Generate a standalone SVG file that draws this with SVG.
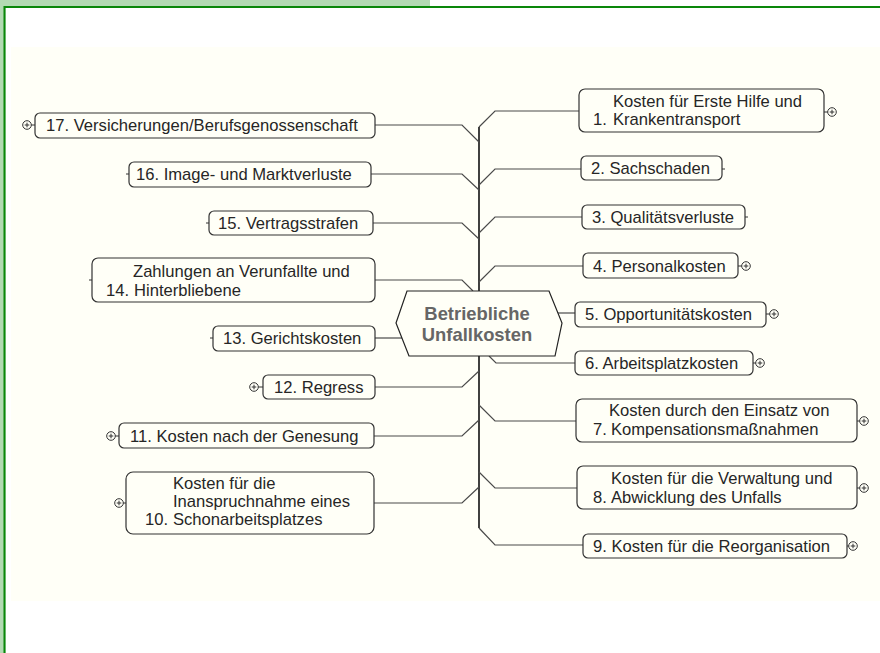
<svg xmlns="http://www.w3.org/2000/svg" width="880" height="653" viewBox="0 0 880 653">
<style>
.bx{fill:#fffff7;stroke:#333;stroke-width:1.2}
.t{font-family:"Liberation Sans",Arial,sans-serif;font-size:16.6px;fill:#262626}
.c{fill:none;stroke:#4a4a4a;stroke-width:1.2}
.sp{fill:none;stroke:#111;stroke-width:1.6}
.ic{fill:#fffff7;stroke:#333;stroke-width:1}
.tk{stroke:#333;stroke-width:1}
.ct{font-family:"Liberation Sans",Arial,sans-serif;font-size:18.4px;font-weight:bold;fill:#666}
</style>
<defs>
<g id="plus"><circle r="4.3" class="ic"/><path d="M-2.3,0H2.3M0,-2.3V2.3" stroke="#333" stroke-width="1"/></g>
</defs>
<rect x="0" y="0" width="880" height="653" fill="#ffffff"/>
<rect x="0" y="0" width="430" height="6" fill="#b3dab3"/>
<rect x="0" y="0" width="3.5" height="653" fill="#b3dab3"/>
<rect x="11" y="47" width="869" height="554" fill="#fffff7"/>
<path d="M4.5,653V7H880" fill="none" stroke="#0a870a" stroke-width="2.2"/>

<g id="connectors">
<path class="sp" d="M479,127V528"/>
<path class="c" d="M479,127L495,111H579"/>
<path class="c" d="M479,185L495,169H581"/>
<path class="c" d="M479,233L495,217H582"/>
<path class="c" d="M479,282L495,266H583"/>
<path class="c" d="M558,313H575"/>
<path class="c" d="M489,356L496,363H575"/>
<path class="c" d="M479,405L495,421H576"/>
<path class="c" d="M479,472L495,488H577"/>
<path class="c" d="M479,528L495,545H583"/>
<path class="c" d="M375,125H462L479,142"/>
<path class="c" d="M371,174H462L479,190"/>
<path class="c" d="M373,223H462L479,239"/>
<path class="c" d="M375,280H462L473,291"/>
<path class="c" d="M375,338H402"/>
<path class="c" d="M375,387H462L479,371"/>
<path class="c" d="M374,436H462L479,420"/>
<path class="c" d="M374,503H462L479,487"/>
</g>

<g id="center">
<polygon points="407,291 549,291 562,323 555,356 409,356 396,323" fill="#fffff7" stroke="#222" stroke-width="1.2"/>
<text class="ct" x="477" y="320" text-anchor="middle">Betriebliche</text>
<text class="ct" x="477" y="341" text-anchor="middle">Unfallkosten</text>
</g>

<g id="n1">
<rect class="bx" x="579" y="89" width="245" height="43" rx="6"/>
<line class="tk" x1="824" y1="112" x2="828" y2="112"/>
<use href="#plus" x="832" y="112"/>
<text class="t" x="613" y="107">Kosten für Erste Hilfe und</text>
<text class="t" x="593" y="125">1.</text>
<text class="t" x="613" y="125">Krankentransport</text>
</g>
<g id="n2">
<rect class="bx" x="581" y="156" width="141" height="24" rx="5"/>
<line class="tk" x1="722" y1="169" x2="725" y2="169"/>
<text class="t" x="591" y="174">2. Sachschaden</text>
</g>
<g id="n3">
<rect class="bx" x="582" y="205" width="163" height="24" rx="5"/>
<line class="tk" x1="745" y1="217" x2="748" y2="217"/>
<text class="t" x="592" y="223">3. Qualitätsverluste</text>
</g>
<g id="n4">
<rect class="bx" x="583" y="253" width="155" height="25" rx="5"/>
<line class="tk" x1="738" y1="266" x2="742" y2="266"/>
<use href="#plus" x="746" y="266"/>
<text class="t" x="593" y="272">4. Personalkosten</text>
</g>
<g id="n5">
<rect class="bx" x="575" y="302" width="191" height="25" rx="5"/>
<line class="tk" x1="766" y1="314" x2="770" y2="314"/>
<use href="#plus" x="774" y="314"/>
<text class="t" x="585" y="320">5. Opportunitätskosten</text>
</g>
<g id="n6">
<rect class="bx" x="575" y="351" width="178" height="24" rx="5"/>
<line class="tk" x1="753" y1="363" x2="756" y2="363"/>
<use href="#plus" x="760" y="363"/>
<text class="t" x="585" y="369">6. Arbeitsplatzkosten</text>
</g>
<g id="n7">
<rect class="bx" x="576" y="399" width="281" height="43" rx="6"/>
<line class="tk" x1="857" y1="421" x2="860" y2="421"/>
<use href="#plus" x="864" y="421"/>
<text class="t" x="609" y="416">Kosten durch den Einsatz von</text>
<text class="t" x="593" y="435">7.</text>
<text class="t" x="611" y="435">Kompensationsmaßnahmen</text>
</g>
<g id="n8">
<rect class="bx" x="577" y="466" width="280" height="43" rx="6"/>
<line class="tk" x1="857" y1="488" x2="860" y2="488"/>
<use href="#plus" x="864" y="488"/>
<text class="t" x="611" y="484">Kosten für die Verwaltung und</text>
<text class="t" x="593" y="503">8.</text>
<text class="t" x="611" y="503">Abwicklung des Unfalls</text>
</g>
<g id="n9">
<rect class="bx" x="583" y="534" width="264" height="24" rx="5"/>
<line class="tk" x1="847" y1="546" x2="849" y2="546"/>
<use href="#plus" x="853" y="546"/>
<text class="t" x="593" y="552">9. Kosten für die Reorganisation</text>
</g>

<g id="n17">
<rect class="bx" x="35" y="113" width="340" height="25" rx="5"/>
<line class="tk" x1="31" y1="125" x2="35" y2="125"/>
<use href="#plus" x="27" y="125"/>
<text class="t" x="46" y="131">17. Versicherungen/Berufsgenossenschaft</text>
</g>
<g id="n16">
<rect class="bx" x="129" y="162" width="242" height="25" rx="5"/>
<line class="tk" x1="126" y1="174" x2="129" y2="174"/>
<text class="t" x="136" y="180">16. Image- und Marktverluste</text>
</g>
<g id="n15">
<rect class="bx" x="209" y="211" width="164" height="24" rx="5"/>
<line class="tk" x1="206" y1="223" x2="209" y2="223"/>
<text class="t" x="218" y="229">15. Vertragsstrafen</text>
</g>
<g id="n14">
<rect class="bx" x="92" y="258" width="283" height="44" rx="6"/>
<line class="tk" x1="89" y1="280" x2="92" y2="280"/>
<text class="t" x="133" y="277">Zahlungen an Verunfallte und</text>
<text class="t" x="106" y="296">14.</text>
<text class="t" x="134" y="296">Hinterbliebene</text>
</g>
<g id="n13">
<rect class="bx" x="213" y="326" width="162" height="25" rx="5"/>
<line class="tk" x1="210" y1="338" x2="213" y2="338"/>
<text class="t" x="223" y="344">13. Gerichtskosten</text>
</g>
<g id="n12">
<rect class="bx" x="263" y="375" width="112" height="24" rx="5"/>
<line class="tk" x1="258" y1="387" x2="263" y2="387"/>
<use href="#plus" x="254" y="387"/>
<text class="t" x="274" y="393">12. Regress</text>
</g>
<g id="n11">
<rect class="bx" x="119" y="423" width="255" height="25" rx="5"/>
<line class="tk" x1="115" y1="436" x2="119" y2="436"/>
<use href="#plus" x="111" y="436"/>
<text class="t" x="130" y="442">11. Kosten nach der Genesung</text>
</g>
<g id="n10">
<rect class="bx" x="126" y="472" width="248" height="62" rx="7"/>
<line class="tk" x1="123" y1="503" x2="126" y2="503"/>
<use href="#plus" x="119" y="503"/>
<text class="t" x="173" y="489">Kosten für die</text>
<text class="t" x="173" y="507">Inanspruchnahme eines</text>
<text class="t" x="145" y="525">10.</text>
<text class="t" x="173" y="525">Schonarbeitsplatzes</text>
</g>
</svg>
